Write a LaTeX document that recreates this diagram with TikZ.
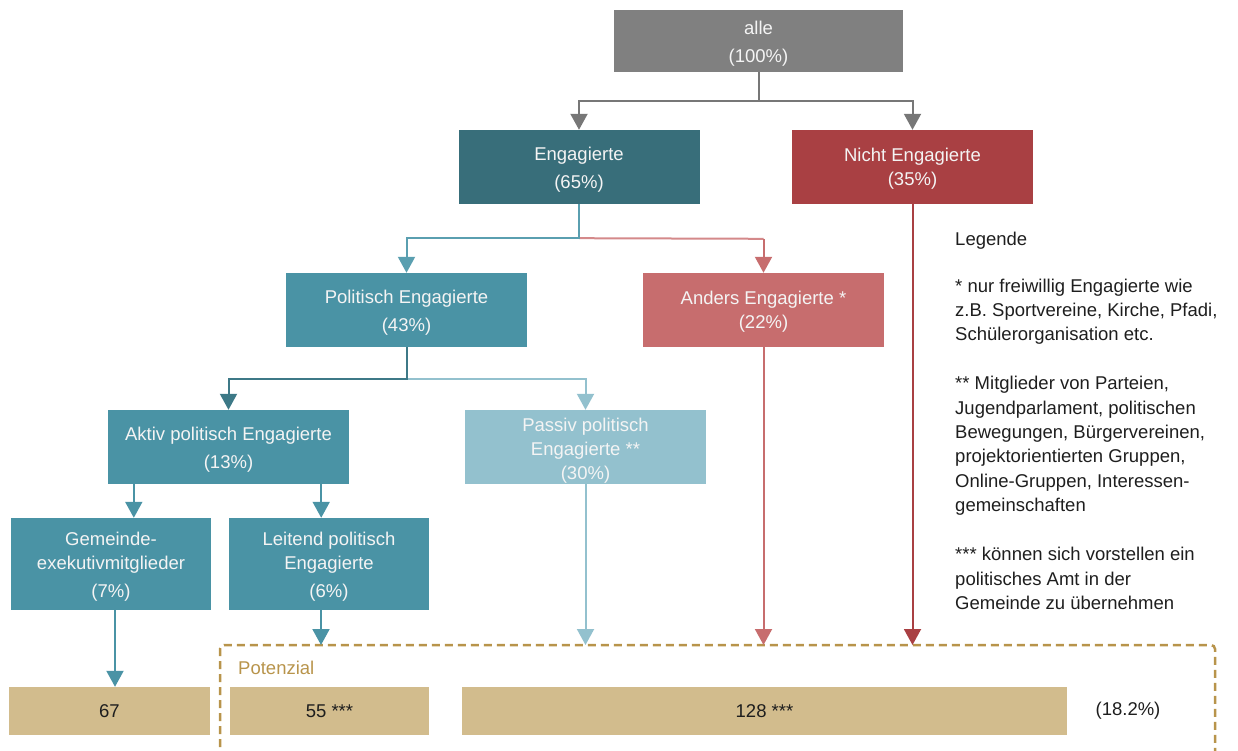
\documentclass[tikz,border=0pt]{standalone}
\usepackage{fontspec}
\setmainfont{Liberation Sans}
\usetikzlibrary{arrows.meta,calc}
\definecolor{cgray}{HTML}{808080}
\definecolor{cgrayline}{HTML}{777777}
\definecolor{ceng}{HTML}{386E7A}
\definecolor{cnicht}{HTML}{A94043}
\definecolor{cteal}{HTML}{4A93A5}
\definecolor{ctealline}{HTML}{5A9FB0}
\definecolor{canders}{HTML}{C76D6E}
\definecolor{cpinkline}{HTML}{D4898A}
\definecolor{cpassiv}{HTML}{93C1CE}
\definecolor{cbeige}{HTML}{D2BC8D}
\definecolor{cgold}{HTML}{B8944B}
\definecolor{ctext}{HTML}{F4F4F4}
\definecolor{cdark}{HTML}{1E1E1E}
\begin{document}
\begin{tikzpicture}[x=1pt,y=-1pt,
  every node/.style={font=\fontsize{18.5}{24}\selectfont},
  box/.style={rectangle, inner sep=0pt, minimum width=241pt, minimum height=74pt},
  boxtxt/.style={inner sep=0pt, text=ctext, align=center, yshift=-3pt},
  numbox/.style={rectangle, inner sep=0pt, fill=cbeige, text=cdark, minimum height=48pt},
  arr/.style={line width=2pt, -{Triangle[width=17pt,length=16pt]}},
  conn/.style={line width=2pt}
]
\useasboundingbox (0,0) rectangle (1238,751);

% boxes
\node[box, fill=cgray, minimum width=289pt, minimum height=62pt,
  label={[boxtxt]center:{alle\\[4pt](100\%)}}] (alle) at (758.5,41) {};
\node[box, fill=ceng, label={[boxtxt]center:{Engagierte\\[4pt](65\%)}}] (eng) at (579,167) {};
\node[box, fill=cnicht, label={[boxtxt,yshift=1pt]center:{Nicht Engagierte\\(35\%)}}] (nicht) at (912.5,167) {};
\node[box, fill=cteal, label={[boxtxt]center:{Politisch Engagierte\\[4pt](43\%)}}] (pol) at (406.5,310) {};
\node[box, fill=canders, label={[boxtxt,yshift=1pt]center:{Anders Engagierte *\\(22\%)}}] (anders) at (763.5,310) {};
\node[box, fill=cteal, label={[boxtxt]center:{Aktiv politisch Engagierte\\[4pt](13\%)}}] (aktiv) at (228.5,447) {};
\node[box, fill=cpassiv, label={[boxtxt,yshift=-1pt]center:{Passiv politisch\\Engagierte **\\(30\%)}}] (passiv) at (585.5,447) {};
\node[box, fill=cteal, minimum width=200pt, minimum height=92pt,
  label={[boxtxt]center:{Gemeinde-\\exekutivmitglieder\\[4pt](7\%)}}] (gem) at (111,564) {};
\node[box, fill=cteal, minimum width=200pt, minimum height=92pt,
  label={[boxtxt]center:{Leitend politisch\\Engagierte\\[4pt](6\%)}}] (leit) at (329,564) {};

\node[numbox, minimum width=201pt] (n67) at (109.5,711) {67};
\node[numbox, minimum width=199pt] (n55) at (329.5,711) {55 ***};
\node[numbox, minimum width=605pt] (n128) at (764.5,711) {128 ***};
\node[text=cdark, anchor=center] (pct) at (1128,711) {(18.2\%)};

% potential box (dashed)
\coordinate (potNW) at (220,645);
\coordinate (potNE) at (1215,645);
\coordinate (potSW) at (220,760);
\coordinate (potSE) at (1215,760);
\draw[cgold, line width=2.5pt, dash pattern=on 8pt off 5pt, rounded corners=4pt] (potSW) -- (potNW) -- (potNE) -- (potSE);
\node[text=cgold, anchor=west, inner sep=0pt] (potlabel) at (238,668) {Potenzial};

% connectors
\draw[cgrayline, arr] (alle.south) -- ++(0,29) -| (eng.north);
\draw[cgrayline, arr] (alle.south) -- ++(0,29) -| (nicht.north);

\draw[cpinkline, conn] (eng.south) ++(0,34) -- ($(anders.north)+(0,-34)$);
\draw[canders, arr] ($(anders.north)+(0,-34)$) -- (anders.north);
\draw[ctealline, arr] (eng.south) -- ++(0,34) -| (pol.north);

\draw[cpassiv, arr] (pol.south) ++(0,32) -| (passiv.north);
\draw[ceng!70!cteal, arr] (pol.south) -- ++(0,32) -| (aktiv.north);

\draw[cteal, arr] ([xshift=26pt]aktiv.south west) -- ([xshift=26pt]aktiv.south west |- gem.north);
\draw[cteal, arr] ([xshift=-28pt]aktiv.south east) -- ([xshift=-28pt]aktiv.south east |- leit.north);

\draw[cteal, arr] ([xshift=4pt]gem.south) -- ([xshift=4pt]gem.south |- n67.north);
\draw[cteal, arr] ([xshift=-8pt]leit.south) -- ([xshift=-8pt]leit.south |- potNW);
\draw[cpassiv, arr] (passiv.south) -- (passiv.south |- potNW);
\draw[canders, arr] (anders.south) -- (anders.south |- potNW);
\draw[cnicht, arr] (nicht.south) -- (nicht.south |- potNW);

% legend
\node[anchor=north west, inner sep=0pt, align=left, text=cdark, font=\fontsize{18.5}{24.4}\selectfont] (legend) at (955,232) {%
Legende\\[22pt]
* nur freiwillig Engagierte wie\\
z.B. Sportvereine, Kirche, Pfadi,\\
Schülerorganisation etc.\\[24.5pt]
** Mitglieder von Parteien,\\
Jugendparlament, politischen\\
Bewegungen, Bürgervereinen,\\
projektorientierten Gruppen,\\
Online-Gruppen, Interessen-\\
gemeinschaften\\[24.5pt]
*** können sich vorstellen ein\\
politisches Amt in der\\
Gemeinde zu übernehmen};
\end{tikzpicture}
\end{document}
